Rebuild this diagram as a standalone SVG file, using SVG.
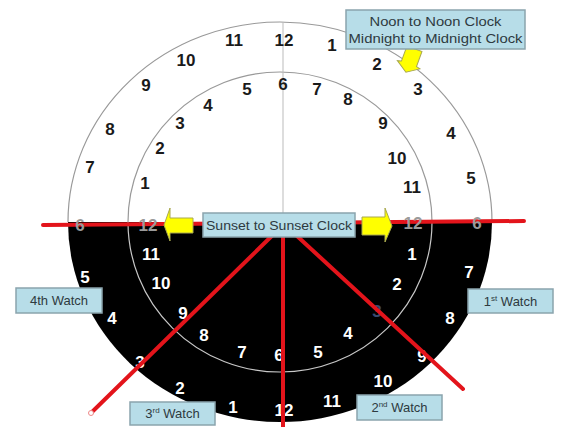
<svg xmlns="http://www.w3.org/2000/svg" width="561" height="427" viewBox="0 0 561 427">
<style>
.n{font-family:"Liberation Sans",Arial,sans-serif;font-weight:bold;font-size:17px;text-anchor:middle}
.d{fill:#1a1a1a}
.w{fill:#ffffff}
.g{fill:#9a9a9a}
.box{fill:#b7dde8;stroke:#8aa4ad;stroke-width:1.5}
.lbl{font-family:"Liberation Sans",Arial,sans-serif;font-size:13px;fill:#2e3a40;text-anchor:middle}
.red{stroke:#e3141b;stroke-width:4;stroke-linecap:round;fill:none}
.arr{fill:#ffff00;stroke:#a8a850;stroke-width:1}
</style>
<rect width="561" height="427" fill="#ffffff"/>
<g id="dial">
<path d="M68,222 A212,200 0 0 1 492,222" fill="none" stroke="#999" stroke-width="1.2"/>
<path d="M68,222 A212,200 0 0 0 492,222 Z" fill="#000000"/>
<path d="M128,222 A152,150 0 0 1 432,222" fill="none" stroke="#999" stroke-width="1.2"/>
<path d="M128,222 A152,150 0 0 0 432,222" fill="none" stroke="#c8c8c8" stroke-width="1.2"/>
<line x1="283" y1="22" x2="283" y2="222" stroke="#bbb" stroke-width="1"/>
</g>
<g id="numbers-top" class="n d">
<text x="284" y="46">12</text><text x="234" y="46">11</text><text x="186" y="66">10</text>
<text x="146" y="91">9</text><text x="110" y="135">8</text><text x="90" y="173">7</text>
<text x="332" y="51">1</text><text x="377" y="70">2</text><text x="418" y="95">3</text>
<text x="451" y="139">4</text><text x="471" y="184">5</text>
<text x="145" y="189">1</text><text x="160" y="154">2</text><text x="180" y="129">3</text>
<text x="208" y="111">4</text><text x="247" y="95">5</text><text x="283" y="90">6</text>
<text x="317" y="95">7</text><text x="348" y="105">8</text><text x="383" y="129">9</text>
<text x="397" y="164">10</text><text x="412" y="193">11</text>
</g>
<g id="numbers-bottom" class="n w">
<text x="85" y="283">5</text><text x="112" y="324">4</text><text x="140" y="368">3</text>
<text x="180" y="394">2</text><text x="233" y="413">1</text><text x="284" y="416">12</text>
<text x="332" y="407">11</text><text x="383" y="387">10</text><text x="422" y="362">9</text>
<text x="450" y="324">8</text><text x="469" y="278">7</text>
<text x="151" y="260">11</text><text x="161" y="289">10</text><text x="183" y="319">9</text>
<text x="204" y="341">8</text><text x="242" y="358">7</text><text x="279" y="361">6</text>
<text x="318" y="358">5</text><text x="348" y="339">4</text><text x="377" y="317" fill="#3a4a70">3</text>
<text x="397" y="290">2</text><text x="412" y="260">1</text>
</g>
<g id="connectors">
<line class="red" x1="43" y1="225" x2="524" y2="221"/>
<line class="red" x1="283" y1="225" x2="283" y2="427"/>
<line class="red" x1="283" y1="225" x2="92" y2="412"/>
<line class="red" x1="284" y1="224" x2="463" y2="389"/>
<circle cx="91" cy="413" r="2.5" fill="#fff" stroke="#e88" stroke-width="1"/>
</g>
<g id="numbers-on-line" class="n g">
<text x="80" y="231">6</text><text x="477" y="229">6</text>
<text x="148" y="231">12</text><text x="413" y="229">12</text>
</g>
<g id="arrow-left"><polygon class="arr" points="164,225 170,208 170,218 193,218 193,233 170,233 170,241"/></g>
<g id="arrow-right"><polygon class="arr" points="392,226 385,208 385,217 362,217 362,235 385,235 385,242"/></g>
<g id="arrow-top"><polygon class="arr" transform="translate(410,61) rotate(20)" points="-8,-13 8,-13 8,3 12,4 0,12 -12,4 -8,3"/></g>
<g id="sunset-label">
<rect class="box" x="203" y="213" width="152" height="24"/>
<text class="lbl" x="279" y="230" font-size="14" textLength="146" lengthAdjust="spacingAndGlyphs">Sunset to Sunset Clock</text>
</g>
<g id="noon-label">
<rect class="box" x="346" y="10" width="179" height="39"/>
<text class="lbl" x="435.5" y="26" font-size="14" textLength="132" lengthAdjust="spacingAndGlyphs">Noon to Noon Clock</text>
<text class="lbl" x="435.5" y="43" font-size="14" textLength="174" lengthAdjust="spacingAndGlyphs">Midnight to Midnight Clock</text>
</g>
<g id="watch-4">
<rect class="box" x="16" y="288" width="86" height="25"/>
<text class="lbl" x="59" y="305">4th Watch</text>
</g>
<g id="watch-3">
<rect class="box" x="130" y="402" width="85" height="23"/>
<text class="lbl" x="172.5" y="418">3<tspan font-size="8" dy="-5">rd</tspan><tspan dy="5"> Watch</tspan></text>
</g>
<g id="watch-2">
<rect class="box" x="357" y="395" width="85" height="25"/>
<text class="lbl" x="399.5" y="412">2<tspan font-size="8" dy="-5">nd</tspan><tspan dy="5"> Watch</tspan></text>
</g>
<g id="watch-1">
<rect class="box" x="468" y="289" width="85" height="24"/>
<text class="lbl" x="510.5" y="306">1<tspan font-size="8" dy="-5">st</tspan><tspan dy="5"> Watch</tspan></text>
</g>
</svg>
